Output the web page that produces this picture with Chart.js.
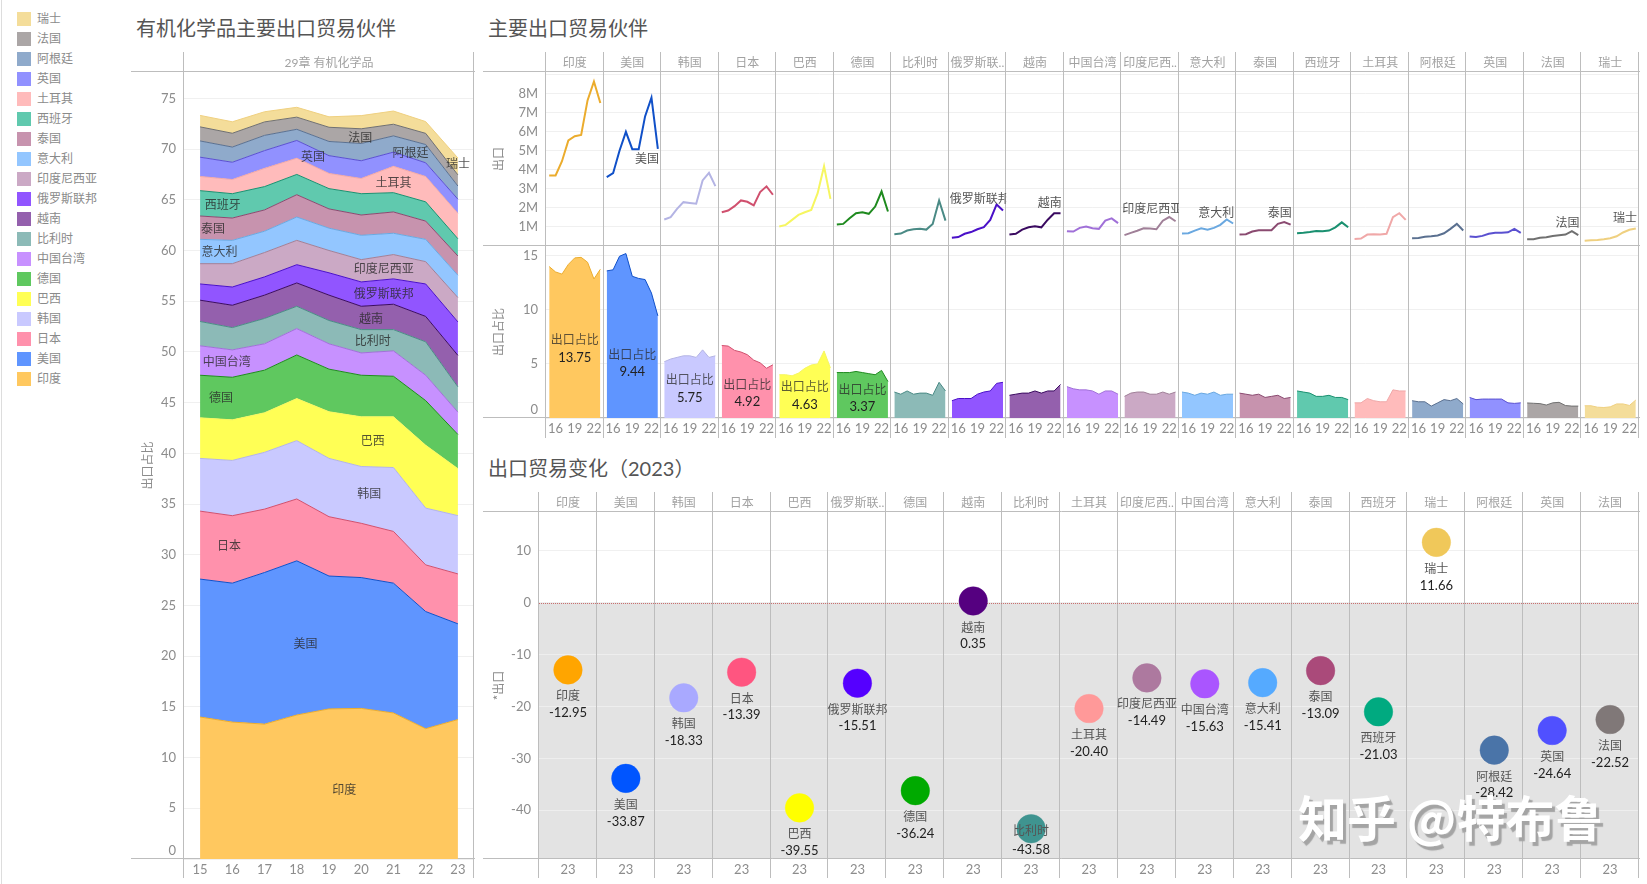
<!DOCTYPE html>
<html lang="zh">
<head>
<meta charset="utf-8">
<title>有机化学品主要出口贸易伙伴</title>
<script src="https://cdn.jsdelivr.net/npm/chart.js@4"></script>
<style>
  body { margin: 0; background: #fff; width: 1647px; height: 884px; overflow: hidden; position: relative;
         font-family: Lato, "Noto Sans CJK SC", sans-serif; }
  canvas { position: absolute; }
  .title { position: absolute; font-size: 20px; line-height: 26px; color: #555; white-space: nowrap; }
  #legend { position: absolute; left: 17px; top: 12px; }
  #legend div { height: 20px; font-size: 12px; line-height: 14px; color: #8a8a8a; white-space: nowrap; }
  #legend i { display: inline-block; width: 14px; height: 14px; margin-right: 6px; vertical-align: top; }
  #edge { position: absolute; left: 1px; top: 0; width: 1px; height: 884px; background: #ddd; }
  #mark { position: absolute; left: 1298px; top: 786px; font-size: 49px; line-height: 60px; font-weight: 700; color: #fff;
          font-family: "Noto Sans CJK SC", sans-serif; text-shadow: 3px 4px 1px #a4a4a4; white-space: nowrap; }
</style>
</head>
<body>
<div id="edge"></div>
<div id="legend"></div>
<div class="title" style="left:136px;top:15px">有机化学品主要出口贸易伙伴</div>
<div class="title" style="left:488px;top:15px">主要出口贸易伙伴</div>
<div class="title" style="left:488px;top:455px">出口贸易变化（2023）</div>
<canvas id="stackChart" style="left:131px;top:52px" width="344" height="826"></canvas>
<canvas id="lineChart" style="left:483px;top:52px" width="1157" height="194"></canvas>
<canvas id="shareChart" style="left:483px;top:246px" width="1157" height="192"></canvas>
<canvas id="changeChart" style="left:483px;top:492px" width="1157" height="386"></canvas>
<div id="mark">知乎 @特布鲁</div>

<script>
const years = ["15", "16", "17", "18", "19", "20", "21", "22", "23"];

// facet order of the top two rows
const countries = ["印度", "美国", "韩国", "日本", "巴西", "德国", "比利时", "俄罗斯联邦", "越南", "中国台湾",
  "印度尼西亚", "意大利", "泰国", "西班牙", "土耳其", "阿根廷", "英国", "法国", "瑞士"];

// export share, percent, 2015-2023
const indiaShare = [14.0, 13.5, 13.3, 14.2, 14.8, 14.85, 14.4, 12.85, 13.75];
const usShare = [13.6, 13.7, 14.95, 15.2, 13.1, 12.9, 12.8, 11.55, 9.44];
const koreaShare = [5.2, 5.45, 5.6, 5.75, 5.75, 5.6, 6.3, 5.6, 5.75];
const japanShare = [6.7, 6.65, 6.25, 6.1, 5.85, 5.35, 5.1, 4.6, 4.92];
const brazilShare = [4.0, 4.0, 3.9, 4.15, 4.6, 4.9, 5.0, 6.2, 4.63];
const germanyShare = [4.2, 4.2, 4.2, 4.3, 4.2, 4.1, 4.0, 4.4, 3.37];
const belgiumShare = [2.4, 2.2, 2.5, 2.2, 2.3, 2.3, 2.1, 3.3, 2.5];
const russiaShare = [1.6, 1.8, 1.8, 1.8, 2.2, 2.4, 2.5, 3.2, 3.3];
const vietnamShare = [2.1, 2.2, 2.3, 2.3, 2.5, 2.3, 2.5, 2.5, 3.1];
const taiwanShare = [2.9, 2.7, 2.6, 2.6, 2.5, 2.2, 2.5, 2.5, 2.2];
const indonesiaShare = [2.0, 2.3, 2.4, 2.4, 2.2, 2.2, 2.4, 2.2, 2.4];
const italyShare = [2.4, 2.3, 2.1, 2.3, 2.2, 2.4, 2.1, 2.2, 2.2];
const thailandShare = [2.3, 2.2, 2.1, 2.2, 1.9, 2.0, 2.1, 1.8, 1.9];
const spainShare = [2.5, 2.4, 2.3, 2.0, 2.0, 2.1, 1.9, 1.9, 1.7];
const turkeyShare = [1.4, 1.4, 1.8, 1.6, 1.5, 1.5, 2.6, 2.5, 2.5];
const argentinaShare = [1.6, 1.5, 1.5, 1.1, 1.4, 1.7, 1.6, 1.8, 1.3];
const ukShare = [1.9, 1.7, 1.75, 1.75, 1.75, 1.75, 1.4, 1.35, 1.4];
const franceShare = [1.39, 1.36, 1.33, 1.2, 1.4, 1.45, 1.15, 1.1, 1.1];
const swissShare = [1.13, 1.13, 1.0, 0.97, 1.03, 1.3, 1.3, 1.16, 1.66];
const shareSeries = [indiaShare, usShare, koreaShare, japanShare, brazilShare, germanyShare, belgiumShare, russiaShare,
  vietnamShare, taiwanShare, indonesiaShare, italyShare, thailandShare, spainShare, turkeyShare, argentinaShare,
  ukShare, franceShare, swissShare];

// exports, millions, 2015-2023
const indiaExport = [3.7, 3.7, 4.45, 5.54, 5.76, 5.83, 7.64, 8.63, 7.5];
const usExport = [3.61, 3.82, 5.0, 5.99, 5.08, 5.08, 6.8, 7.78, 5.1];
const koreaExport = [1.39, 1.51, 1.95, 2.3, 2.26, 2.22, 3.44, 3.84, 3.14];
const japanExport = [1.77, 1.86, 2.09, 2.39, 2.32, 2.13, 2.83, 3.13, 2.69];
const brazilExport = [1.02, 1.11, 1.37, 1.63, 1.77, 1.89, 2.77, 4.18, 2.47];
const germanyExport = [1.13, 1.16, 1.46, 1.72, 1.77, 1.69, 2.07, 2.86, 1.81];
const belgiumExport = [0.62, 0.65, 0.81, 0.88, 0.9, 0.86, 1.16, 2.39, 1.33];
const russiaExport = [0.43, 0.47, 0.64, 0.73, 0.88, 0.99, 1.37, 2.18, 1.86];
const vietnamExport = [0.6, 0.64, 0.86, 0.98, 1.03, 0.98, 1.38, 1.72, 1.72];
const taiwanExport = [0.78, 0.76, 0.95, 1.02, 0.93, 0.9, 1.33, 1.45, 1.2];
const indonesiaExport = [0.57, 0.69, 0.8, 0.93, 0.92, 0.88, 1.33, 1.52, 1.3];
const italyExport = [0.65, 0.67, 0.81, 0.93, 0.86, 0.95, 1.11, 1.39, 1.18];
const thailandExport = [0.6, 0.62, 0.76, 0.83, 0.83, 0.83, 1.16, 1.26, 1.12];
const spainExport = [0.67, 0.7, 0.74, 0.79, 0.77, 0.81, 0.98, 1.24, 0.98];
const turkeyExport = [0.37, 0.39, 0.6, 0.62, 0.6, 0.64, 1.51, 1.72, 1.37];
const argentinaExport = [0.41, 0.42, 0.48, 0.51, 0.55, 0.67, 0.9, 1.16, 0.81];
const ukExport = [0.5, 0.47, 0.53, 0.64, 0.69, 0.69, 0.72, 0.9, 0.69];
const franceExport = [0.36, 0.36, 0.43, 0.46, 0.53, 0.57, 0.6, 0.78, 0.57];
const swissExport = [0.27, 0.3, 0.32, 0.36, 0.41, 0.51, 0.71, 0.85, 0.92];
const exportSeries = [indiaExport, usExport, koreaExport, japanExport, brazilExport, germanyExport, belgiumExport, russiaExport,
  vietnamExport, taiwanExport, indonesiaExport, italyExport, thailandExport, spainExport, turkeyExport, argentinaExport,
  ukExport, franceExport, swissExport];

// stack order, bottom to top
const stackOrder = ["印度", "美国", "日本", "韩国", "巴西", "德国", "中国台湾", "比利时", "越南", "俄罗斯联邦", "印度尼西亚",
  "意大利", "泰国", "西班牙", "土耳其", "英国", "阿根廷", "法国", "瑞士"];

// 2023 change, facet order of the bottom row
const changeCountries = ["印度", "美国", "韩国", "日本", "巴西", "俄罗斯联邦", "德国", "越南", "比利时", "土耳其", "印度尼西亚",
  "中国台湾", "意大利", "泰国", "西班牙", "瑞士", "阿根廷", "英国", "法国"];
const changeValues = [-12.95, -33.87, -18.33, -13.39, -39.55, -15.51, -36.24, 0.35, -43.58, -20.40, -14.49,
  -15.63, -15.41, -13.09, -21.03, 11.66, -28.42, -24.64, -22.52];

// text labels sitting inside the marks
const stackLabelNames = ["瑞士", "法国", "阿根廷", "英国", "土耳其", "西班牙", "泰国", "意大利", "印度尼西亚", "俄罗斯联邦",
  "越南", "比利时", "中国台湾", "德国", "巴西", "韩国", "日本", "美国", "印度"];
const stackLabelYear = [8, 4.97, 6.53, 3.5, 6.0, 0.7, 0.4, 0.6, 5.7, 5.7, 5.3, 5.36, 0.83, 0.65, 5.36, 5.25, 0.9, 3.27, 4.47];
const stackLabelValue = [68.6, 71.1, 69.7, 69.3, 66.7, 64.5, 62.2, 59.9, 58.2, 55.75, 53.3, 51.1, 49.1, 45.5, 41.25, 36.05, 30.9, 21.3, 6.9];
const lineLabelNames = ["美国", "俄罗斯联邦", "越南", "印度尼西亚", "意大利", "泰国", "法国", "瑞士"];
const lineLabelValue = [4.58, 2.48, 2.27, 1.95, 1.77, 1.74, 1.22, 1.51];
const shareLabelValues = ["13.75", "9.44", "5.75", "4.92", "4.63", "3.37"];
const shareLabelHeight = [6.4, 5.08, 2.7, 2.3, 2.08, 1.85];

const areaColors = { 印度: "#FFC85F", 美国: "#5F95FF", 韩国: "#C9C9FF", 日本: "#FF91AC", 巴西: "#FFFF55", 德国: "#5FC85F",
  比利时: "#8CBAB7", 俄罗斯联邦: "#9155FF", 越南: "#9460AD", 中国台湾: "#C791FF", 印度尼西亚: "#CBA9C5", 意大利: "#93C6FF",
  泰国: "#C793AE", 西班牙: "#60C9AE", 土耳其: "#FFBBBB", 阿根廷: "#8FAACB", 英国: "#9191FF", 法国: "#ABA6A6", 瑞士: "#F4DD9A" };
const lineColors = { 印度: "#EBAC2D", 美国: "#1050C8", 韩国: "#B4B4E4", 日本: "#D0506E", 巴西: "#F6F660", 德国: "#1E8A1E",
  比利时: "#4A8A85", 俄罗斯联邦: "#4A10C8", 越南: "#3A0A60", 中国台湾: "#A070D8", 印度尼西亚: "#A08098", 意大利: "#6AA8E0",
  泰国: "#8A4A70", 西班牙: "#1A9070", 土耳其: "#F0A8A8", 阿根廷: "#5A7090", 英国: "#5A50D0", 法国: "#707070", 瑞士: "#EFD080" };
const markColors = { 印度: "#FFA500", 美国: "#0055FF", 韩国: "#A9A9FF", 日本: "#FF5580", 巴西: "#FFFF00", 德国: "#00AA00",
  比利时: "#3F9490", 俄罗斯联邦: "#5500FF", 越南: "#550080", 中国台湾: "#AA55FF", 印度尼西亚: "#AD799F", 意大利: "#55AAFF",
  泰国: "#AA4A7A", 西班牙: "#00AA80", 土耳其: "#FF9999", 阿根廷: "#4A74A8", 英国: "#5050FF", 法国: "#807878", 瑞士: "#F0C85A" };

const RULE = "#bdbdbd", GRID = "rgba(238,238,238,0.9)", TICK = "#8c8c8c";
const CJK = '"Noto Sans CJK SC", sans-serif';
const NUM = 'Lato, "Noto Sans CJK SC", sans-serif';

Chart.defaults.animation = false;
Chart.defaults.responsive = false;
Chart.defaults.layout.autoPadding = false;
Chart.defaults.plugins.legend.display = false;
Chart.defaults.plugins.tooltip.enabled = false;

// legend, top of stack first
document.getElementById("legend").innerHTML = [...stackOrder].reverse()
  .map((c) => `<div><i style="background:${areaColors[c]}"></i>${c}</div>`).join("");

function shortName(name) {
  return name.length > 4 ? name.slice(0, 4) + ".." : name;
}

// pad a 9-year series into its slot on the long shared x axis
function inFacet(series, k) {
  const out = new Array(countries.length * series.length).fill(null);
  series.forEach((v, i) => { out[k * series.length + i] = v; });
  return out;
}

// y axis of fixed width, no room reserved for half a tick label
function fixedY(width) {
  return (s) => {
    s.width = width;
    s.paddingTop = s.paddingBottom = 0;
  };
}

function fixedX(height) {
  return (s) => {
    s.height = height;
    s.paddingLeft = s.paddingRight = 0;
  };
}

function text(ctx, str, x, y, font, color, align) {
  ctx.font = font;
  ctx.fillStyle = color;
  ctx.textAlign = align || "center";
  ctx.textBaseline = "middle";
  ctx.fillText(str, x, y);
}

// Facet rules, header names, the shaded band and the labels of one row
function frame(opts) {
  return {
    id: "frame",
    beforeDraw(chart) {
      if (!opts.belowZero) return;
      const { ctx, chartArea: a, scales } = chart;
      ctx.fillStyle = "#e3e3e3";
      ctx.fillRect(a.left, scales.y.getPixelForValue(0), a.width, a.bottom - scales.y.getPixelForValue(0));
    },
    beforeDatasetsDraw(chart) {
      const { ctx, chartArea: a, scales } = chart;
      const n = opts.facets.length;
      ctx.save();
      ctx.strokeStyle = RULE;
      ctx.lineWidth = 1;
      ctx.beginPath();
      for (let k = 0; k <= n; k++) {
        const x = Math.round(a.left + (k * a.width) / n) - 0.5;
        ctx.moveTo(x, 0);
        ctx.lineTo(x, chart.height);
      }
      [a.top, a.bottom].forEach((y) => {
        ctx.moveTo(0, Math.round(y) - 0.5);
        ctx.lineTo(chart.width, Math.round(y) - 0.5);
      });
      ctx.stroke();
      if (opts.belowZero) {
        const y0 = Math.round(scales.y.getPixelForValue(0)) + 0.5;
        ctx.strokeStyle = "#c96f6f";
        ctx.setLineDash([1, 1]);
        ctx.beginPath();
        ctx.moveTo(a.left, y0);
        ctx.lineTo(a.right, y0);
        ctx.stroke();
      }
      ctx.restore();
      if (opts.headers) {
        opts.facets.forEach((name, k) => {
          const shown = n === 1 ? name : shortName(name);
          text(ctx, shown, a.left + ((k + 0.5) * a.width) / n, a.top / 2 + 1, "12px " + NUM, "#a2a2a2");
        });
      }
      if (opts.zeroLabel) text(ctx, "0", a.left - 8, a.bottom - 8.5, "13px " + NUM, TICK, "right");
    },
    afterDatasetsDraw(chart) {
      if (opts.labels) opts.labels(chart);
    },
  };
}

// ---- left: stacked share of all partners
new Chart(document.getElementById("stackChart"), {
  type: "line",
  data: {
    labels: years,
    datasets: stackOrder.map((name, i) => ({
      label: name,
      data: shareSeries[countries.indexOf(name)],
      backgroundColor: areaColors[name],
      borderColor: lineColors[name],
      borderWidth: 1,
      pointRadius: 0,
      fill: i === 0 ? "origin" : "-1",
    })),
  },
  options: {
    layout: { padding: { top: 20, right: 1 } },
    scales: {
      x: {
        offset: true,
        grid: { display: false, drawTicks: false },
        border: { display: false },
        ticks: { color: TICK, font: { family: NUM, size: 13 }, padding: 3, maxRotation: 0 },
        afterFit: fixedX(19),
      },
      y: {
        stacked: true,
        min: 0,
        max: 77.6,
        grid: { color: GRID, drawTicks: false },
        border: { display: false },
        title: { display: true, text: "出口占比", color: TICK, font: { family: CJK, size: 12 }, padding: { top: 9, bottom: 0 } },
        ticks: {
          stepSize: 5,
          includeBounds: false,
          padding: 8,
          color: TICK,
          font: { family: NUM, size: 13 },
          callback: (v) => (v === 0 ? "" : v),
        },
        afterFit: fixedY(53),
      },
    },
  },
  plugins: [frame({
    facets: ["29章 有机化学品"],
    headers: true,
    zeroLabel: true,
    labels(chart) {
      const { ctx, scales } = chart;
      stackLabelNames.forEach((name, i) => {
        text(ctx, name, scales.x.getPixelForValue(stackLabelYear[i]), scales.y.getPixelForValue(stackLabelValue[i]),
          "12px " + CJK, "rgba(40,40,40,0.8)");
      });
    },
  })],
});

const facetLabels = countries.flatMap(() => years);

// ---- top row: export lines
new Chart(document.getElementById("lineChart"), {
  type: "line",
  data: {
    labels: facetLabels,
    datasets: countries.map((name, k) => ({
      label: name,
      data: inFacet(exportSeries[k], k),
      borderColor: lineColors[name],
      borderWidth: 2,
      pointRadius: 0,
    })),
  },
  options: {
    layout: { padding: { top: 20, right: 1 } },
    scales: {
      x: { display: false, offset: true, afterFit: fixedX(0) },
      y: {
        min: 0,
        max: 9.13,
        grid: { color: GRID, drawTicks: false },
        border: { display: false },
        title: { display: true, text: "出口", color: TICK, font: { family: CJK, size: 12 }, padding: { top: 8, bottom: 0 } },
        ticks: {
          stepSize: 1,
          includeBounds: false,
          padding: 8,
          color: TICK,
          font: { family: NUM, size: 13 },
          callback: (v) => (v === 0 || v === 9 ? "" : v + "M"),
        },
        afterFit: fixedY(63),
      },
    },
  },
  plugins: [frame({
    facets: countries,
    headers: true,
    labels(chart) {
      const { ctx, chartArea: a, scales } = chart;
      const w = a.width / countries.length;
      lineLabelNames.forEach((name, i) => {
        const k = countries.indexOf(name);
        const left = a.left + k * w;
        const y = scales.y.getPixelForValue(lineLabelValue[i]);
        ctx.save();
        ctx.beginPath();
        ctx.rect(left, a.top, w, a.height);
        ctx.clip();
        if (name.length * 12 >= w) text(ctx, name, left + 1, y, "12px " + CJK, "#555", "left");
        else text(ctx, name, left + w - 2, y, "12px " + CJK, "#555", "right");
        ctx.restore();
      });
    },
  })],
});

// ---- second row: share areas
new Chart(document.getElementById("shareChart"), {
  type: "line",
  data: {
    labels: facetLabels,
    datasets: countries.map((name, k) => ({
      label: name,
      data: inFacet(shareSeries[k], k),
      backgroundColor: areaColors[name],
      borderColor: lineColors[name],
      borderWidth: 1,
      pointRadius: 0,
      fill: "origin",
    })),
  },
  options: {
    layout: { padding: { right: 1 } },
    scales: {
      x: {
        offset: true,
        grid: { display: false, drawTicks: false },
        border: { display: false },
        ticks: {
          autoSkip: false,
          maxRotation: 0,
          padding: 3,
          color: TICK,
          font: { family: NUM, size: 13 },
          callback(v) {
            const y = this.getLabelForValue(v);
            return y === "16" || y === "19" || y === "22" ? y : "";
          },
        },
        afterFit: fixedX(20),
      },
      y: {
        min: 0,
        max: 15.9,
        grid: { color: GRID, drawTicks: false },
        border: { display: false },
        title: { display: true, text: "出口占比", color: TICK, font: { family: CJK, size: 12 }, padding: { top: 8, bottom: 0 } },
        ticks: {
          stepSize: 5,
          includeBounds: false,
          padding: 8,
          color: TICK,
          font: { family: NUM, size: 13 },
          callback: (v) => (v === 0 ? "" : v),
        },
        afterFit: fixedY(63),
      },
    },
  },
  plugins: [frame({
    facets: countries,
    zeroLabel: true,
    labels(chart) {
      const { ctx, chartArea: a, scales } = chart;
      const w = a.width / countries.length;
      shareLabelValues.forEach((val, k) => {
        const x = a.left + (k + 0.5) * w;
        const y = scales.y.getPixelForValue(shareLabelHeight[k]);
        text(ctx, "出口占比", x, y - 9, "12px " + CJK, "rgba(40,40,40,0.75)");
        text(ctx, val, x, y + 9, "13px " + NUM, "#222");
      });
    },
  })],
});

// ---- bottom row: 2023 change as circles
new Chart(document.getElementById("changeChart"), {
  type: "line",
  data: {
    labels: changeCountries.map(() => "23"),
    datasets: [{
      label: "*出口",
      data: changeValues,
      showLine: false,
      pointRadius: 14.3,
      pointBorderWidth: 1,
      pointBackgroundColor: changeCountries.map((c) => markColors[c]),
      pointBorderColor: changeCountries.map((c) => markColors[c] + "66"),
    }],
  },
  options: {
    layout: { padding: { top: 20, right: 1 } },
    scales: {
      x: {
        offset: true,
        grid: { display: false, drawTicks: false },
        border: { display: false },
        ticks: { autoSkip: false, maxRotation: 0, padding: 3, color: TICK, font: { family: NUM, size: 13 } },
        afterFit: fixedX(19),
      },
      y: {
        min: -49.42,
        max: 17.51,
        grid: { color: GRID, drawTicks: false },
        border: { display: false },
        title: { display: true, text: "*出口", color: TICK, font: { family: CJK, size: 12 }, padding: { top: 8, bottom: 0 } },
        ticks: { stepSize: 10, includeBounds: false, padding: 8, color: TICK, font: { family: NUM, size: 13 } },
        afterFit: fixedY(56),
      },
    },
  },
  plugins: [frame({
    facets: changeCountries,
    headers: true,
    belowZero: true,
    labels(chart) {
      const { ctx, scales } = chart;
      changeCountries.forEach((name, k) => {
        const x = scales.x.getPixelForValue(k);
        const y = scales.y.getPixelForValue(changeValues[k]);
        // the lowest circle has no room below, its text goes over the mark
        const nameGap = name === "比利时" ? 2 : 26;
        const valueGap = name === "比利时" ? 21 : 43;
        text(ctx, name, x, y + nameGap, "12px " + CJK, "#555");
        text(ctx, changeValues[k].toFixed(2), x, y + valueGap, "13px " + NUM, "#222");
      });
    },
  })],
});
</script>
</body>
</html>
